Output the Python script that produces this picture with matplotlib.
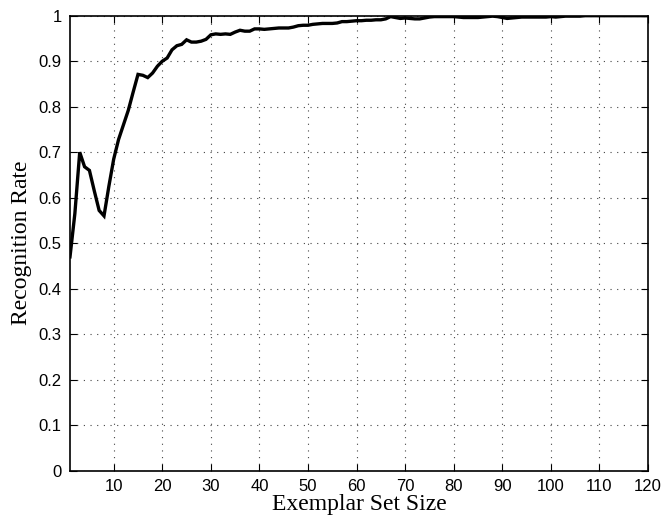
import matplotlib
matplotlib.use("Agg")
import matplotlib.pyplot as plt
import numpy as np

# Exemplar set sizes 1..120 and recognition rates
set_size = list(range(1, 121))
recognition_rate = [
    0.470, 0.565, 0.700, 0.668, 0.660, 0.615, 0.572, 0.560, 0.625, 0.685,
    0.728, 0.760, 0.792, 0.832, 0.871, 0.869, 0.864, 0.874, 0.889, 0.900,
    0.907, 0.925, 0.934, 0.937, 0.947, 0.942, 0.942, 0.944, 0.948, 0.958,
    0.960, 0.959, 0.960, 0.959, 0.964, 0.968, 0.966, 0.966, 0.971, 0.971,
    0.970, 0.971, 0.972, 0.973, 0.973, 0.973, 0.975, 0.978, 0.979, 0.979,
    0.981, 0.982, 0.983, 0.983, 0.983, 0.984, 0.987, 0.987, 0.988, 0.989,
    0.989, 0.990, 0.990, 0.991, 0.991, 0.993, 0.998, 0.996, 0.994, 0.995,
    0.994, 0.993, 0.993, 0.995, 0.997, 0.998, 0.998, 0.998, 0.998, 0.998,
    0.997, 0.996, 0.996, 0.996, 0.996, 0.997, 0.998, 0.999, 0.998, 0.996,
    0.994, 0.995, 0.996, 0.997, 0.997, 0.997, 0.997, 0.997, 0.997, 0.998,
    0.997, 0.998, 0.999, 0.999, 0.999, 0.999, 1.000, 1.000, 1.000, 1.000,
    1.000, 1.000, 1.000, 1.000, 1.000, 1.000, 1.000, 1.000, 1.000, 1.000,
]
x_ticks = list(range(10, 121, 10))
y_ticks = [round(v * 0.1, 1) for v in range(0, 11)]
y_tick_labels = ["0", "0.1", "0.2", "0.3", "0.4", "0.5", "0.6", "0.7", "0.8", "0.9", "1"]

fig = plt.figure(figsize=(6.65, 5.16), dpi=100)
ax = fig.add_axes([70 / 665, 1 - 470.7 / 516, 578 / 665, 455 / 516])

ax.plot(set_size, recognition_rate, color="black", linewidth=2.4,
        solid_joinstyle="miter", zorder=3)

ax.set_xlim(1, 120)
ax.set_ylim(0, 1)
ax.set_xticks(x_ticks)
ax.set_yticks(y_ticks)
ax.set_yticklabels(y_tick_labels)

tick_font = ["Liberation Sans", "DejaVu Sans"]
for lab in ax.get_xticklabels() + ax.get_yticklabels():
    lab.set_family(tick_font)
    lab.set_fontsize(12)

ax.tick_params(direction="in", length=5, width=0.8, top=True, right=True,
               pad=6, colors="black")
ax.grid(True, linestyle=(0, (1, 5)), linewidth=0.8, color="#444444")
ax.set_axisbelow(True)
for s in ax.spines.values():
    s.set_linewidth(1.2)

label_font = ["Liberation Serif", "DejaVu Serif"]
ax.set_xlabel("Exemplar Set Size", family=label_font, fontsize=17, labelpad=0)
ax.set_ylabel("Recognition Rate", family=label_font, fontsize=17, labelpad=5)

fig.savefig("out.png", dpi=100)
